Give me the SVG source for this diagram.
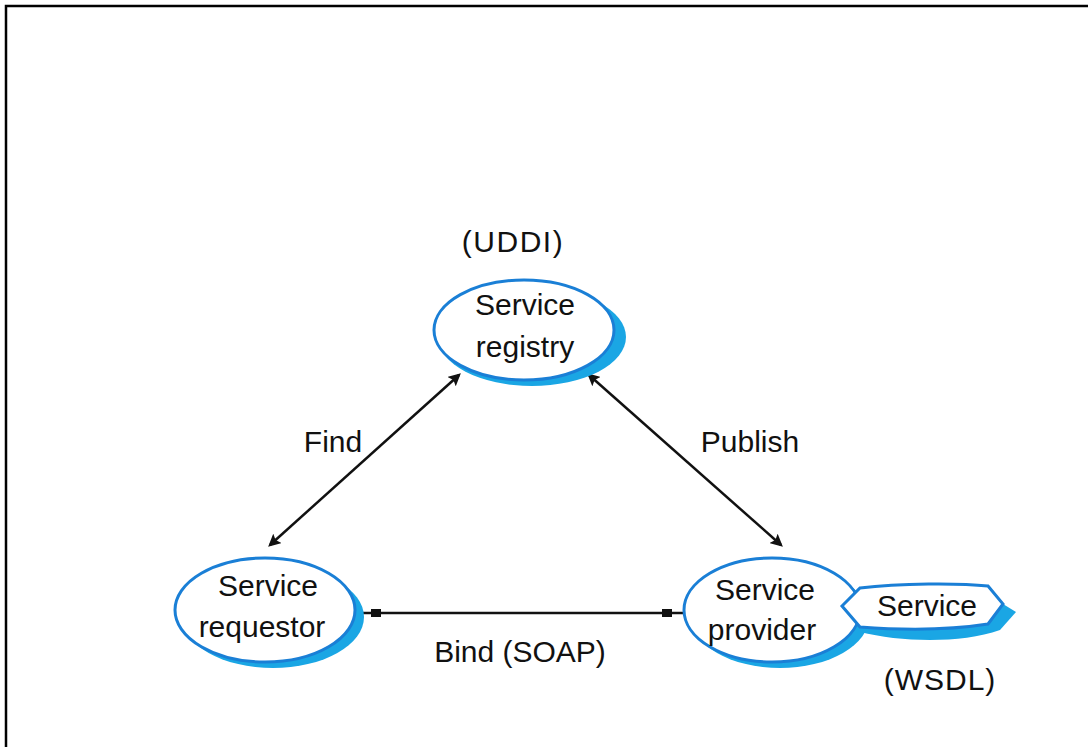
<svg xmlns="http://www.w3.org/2000/svg" width="1088" height="747" viewBox="0 0 1088 747">
<style>
.t{font-family:"Liberation Sans",Arial,sans-serif;font-size:30px;fill:#111;text-anchor:middle}
.sh{fill:#1aa6e4}
.el{fill:#fff;stroke:#1a7fd6;stroke-width:3}
.ln{stroke:#111;stroke-width:2.5;fill:none}
</style>
<defs>
<marker id="m" viewBox="0 0 10 10" refX="8" refY="5" markerWidth="5" markerHeight="5" orient="auto-start-reverse"><path d="M0,0 L10,5 L0,10 L2,5 Z" fill="#111"/></marker>
</defs>
<rect width="1088" height="747" fill="#fff"/>
<path d="M6,747 V6 H1088" fill="none" stroke="#000" stroke-width="2.5"/>
<g id="connectors">
<line class="ln" x1="270" y1="545" x2="459" y2="375" marker-start="url(#m)" marker-end="url(#m)"/>
<line class="ln" x1="589" y1="375" x2="781" y2="545" marker-start="url(#m)" marker-end="url(#m)"/>
<line class="ln" x1="360" y1="613" x2="685" y2="613"/>
<rect x="371" y="609" width="10" height="8" fill="#111"/>
<rect x="662" y="609" width="10" height="8" fill="#111"/>
<text class="t" x="333" y="452">Find</text>
<text class="t" x="750" y="452">Publish</text>
<text class="t" x="520" y="662">Bind (SOAP)</text>
</g>
<g id="registry">
<ellipse class="sh" cx="532" cy="337" rx="94" ry="49"/>
<ellipse class="el" cx="524" cy="330" rx="90" ry="50"/>
<text class="t" x="525" y="315">Service</text>
<text class="t" x="525" y="357">registry</text>
<text class="t" x="513" y="252" style="letter-spacing:1.5px">(UDDI)</text>
</g>
<g id="requestor">
<ellipse class="sh" cx="273" cy="617" rx="91" ry="51"/>
<ellipse class="el" cx="265" cy="610" rx="90" ry="52"/>
<text class="t" x="268" y="596">Service</text>
<text class="t" x="262" y="637">requestor</text>
</g>
<g id="provider">
<ellipse class="sh" cx="780" cy="617" rx="89" ry="51"/>
<path class="sh" d="M860,632 C860,600 900,594 990,596 L1016,612 L1000,630 C960,644 900,642 860,632 Z"/>
<ellipse class="el" cx="772" cy="610" rx="88" ry="52"/>
<path class="el" d="M842,606 L860,588 C900,583 960,583 988,586 L1003,604 L988,624 C950,630 900,630 860,627 Z"/>
<text class="t" x="765" y="600">Service</text>
<text class="t" x="762" y="640">provider</text>
<text class="t" x="927" y="616">Service</text>
<text class="t" x="940" y="690" style="letter-spacing:1px">(WSDL)</text>
</g>
</svg>
